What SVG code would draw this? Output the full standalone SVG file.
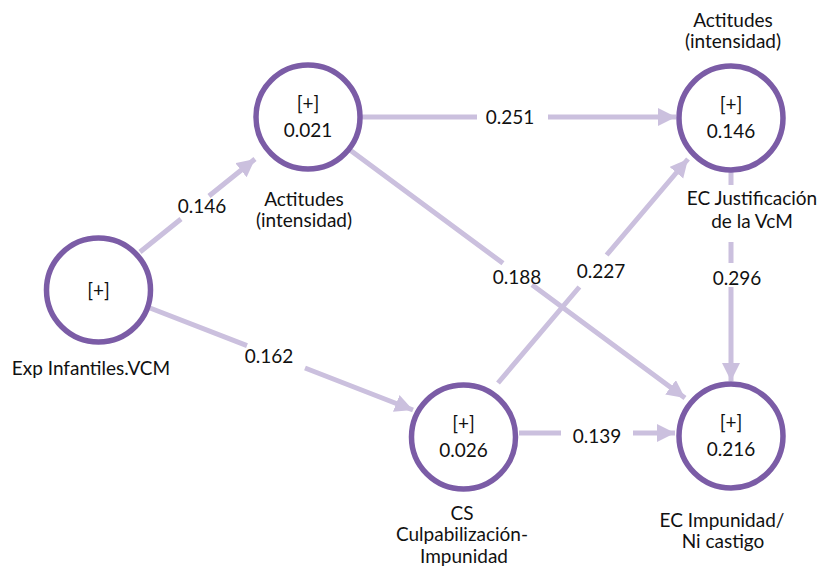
<svg xmlns="http://www.w3.org/2000/svg" width="821" height="566" viewBox="0 0 821 566">
<style>
.node{fill:#ffffff;stroke:#7b5ca6;stroke-width:5.5}
.edge{fill:none;stroke:#cbc0de;stroke-width:5}
text{font-family:Lato,"Open Sans","Liberation Sans",sans-serif;font-size:19px;fill:#111111;text-anchor:middle}
</style>
<defs>
<marker id="arr" markerUnits="userSpaceOnUse" markerWidth="20" markerHeight="20" refX="18" refY="9" orient="auto">
<path d="M0,0 L18,9 L0,18 z" fill="#cbc0de"/>
</marker>
</defs>
<rect width="821" height="566" fill="#ffffff"/>
<g id="connectors">
<path class="edge" marker-end="url(#arr)" d="M140,252 L181,219 M209,196 L255,159"/>
<text x="202" y="213">0.146</text>
<path class="edge" marker-end="url(#arr)" d="M150,308 L247,345.6 M305,368 L413,410"/>
<text x="269" y="363">0.162</text>
<path class="edge" marker-end="url(#arr)" d="M360,117 L477,117 M548,117 L676,117"/>
<text x="510" y="124">0.251</text>
<path class="edge" marker-end="url(#arr)" d="M350,150 L503,263.3 M532,284.7 L685,398"/>
<text x="517" y="284">0.188</text>
<path class="edge" marker-end="url(#arr)" d="M498,383 L579.4,287 M606.6,255 L688,159"/>
<text x="601" y="278">0.227</text>
<path class="edge" marker-end="url(#arr)" d="M731,172 L731,185 M731,242 L731,263 M731,287 L731,381"/>
<text x="737" y="285">0.296</text>
<path class="edge" marker-end="url(#arr)" d="M519,433 L561,433 M633,433 L675,433"/>
<text x="597" y="443">0.139</text>
</g>
<g id="exp-infantiles">
<circle class="node" cx="98.5" cy="290" r="52"/>
<text x="98.5" y="297">[+]</text>
<text x="91" y="375">Exp Infantiles.VCM</text>
</g>
<g id="actitudes-1">
<circle class="node" cx="308" cy="117" r="52"/>
<text x="308" y="110">[+]</text>
<text x="308" y="137">0.021</text>
<text x="304" y="206">Actitudes</text>
<text x="304" y="227">(intensidad)</text>
</g>
<g id="ec-justificacion">
<circle class="node" cx="731" cy="118" r="52"/>
<text x="731" y="111">[+]</text>
<text x="731" y="138">0.146</text>
<text x="733" y="27">Actitudes</text>
<text x="733" y="48">(intensidad)</text>
<text x="752" y="205">EC Justificación</text>
<text x="752" y="228">de la VcM</text>
</g>
<g id="cs-culpabilizacion">
<circle class="node" cx="463.5" cy="437" r="52"/>
<text x="463.5" y="430">[+]</text>
<text x="463.5" y="457">0.026</text>
<text x="462" y="520">CS</text>
<text x="462" y="541">Culpabilización-</text>
<text x="464" y="563">Impunidad</text>
</g>
<g id="ec-impunidad">
<circle class="node" cx="731" cy="436" r="52"/>
<text x="731" y="429">[+]</text>
<text x="731" y="456">0.216</text>
<text x="722" y="527">EC Impunidad/</text>
<text x="723" y="548">Ni castigo</text>
</g>
</svg>
